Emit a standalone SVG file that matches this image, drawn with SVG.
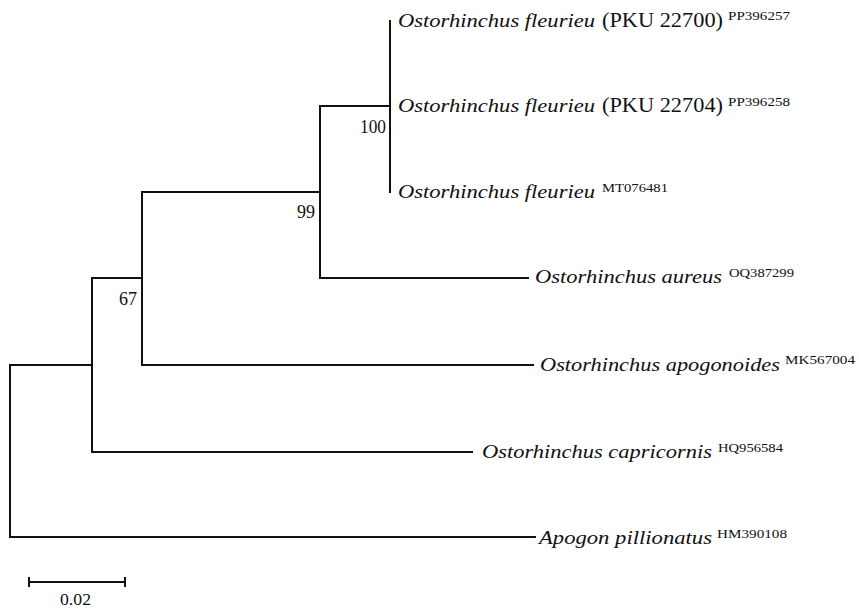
<svg xmlns="http://www.w3.org/2000/svg" width="859" height="611" viewBox="0 0 859 611">
<style>
.br{fill:none;stroke:#111;stroke-width:2;stroke-linecap:square}
text{fill:#111;font-family:"Liberation Serif","Times New Roman",serif}
.sp{font-style:italic;font-size:19px}
.rm{font-size:20px}
.sup{font-size:12.5px}
.bs{font-size:18px}
.sc{font-size:16px}
</style>
<rect width="859" height="611" fill="#fff"/>
<g id="connectors">
<path class="br" d="M10,365 V537 M10,365 H92 M10,537 H535 M92,278 V452 M92,452 H472 M92,278 H142 M142,192 V365 M142,365 H533 M142,192 H320 M320,106 V278 M320,278 H528 M320,106 H390 M390,21 V192"/>
</g>
<g id="tip1">
<text class="sp" x="398" y="27" textLength="197" lengthAdjust="spacingAndGlyphs">Ostorhinchus fleurieu</text>
<text class="rm" x="602" y="27" textLength="121" lengthAdjust="spacingAndGlyphs">(PKU 22700)</text>
<text class="sup" x="728" y="20" textLength="62" lengthAdjust="spacingAndGlyphs">PP396257</text>
</g>
<g id="tip2">
<text class="sp" x="398" y="112" textLength="197" lengthAdjust="spacingAndGlyphs">Ostorhinchus fleurieu</text>
<text class="rm" x="602" y="112" textLength="121" lengthAdjust="spacingAndGlyphs">(PKU 22704)</text>
<text class="sup" x="728" y="106" textLength="62" lengthAdjust="spacingAndGlyphs">PP396258</text>
</g>
<g id="tip3">
<text class="sp" x="398" y="198" textLength="197" lengthAdjust="spacingAndGlyphs">Ostorhinchus fleurieu</text>
<text class="sup" x="602" y="192" textLength="66" lengthAdjust="spacingAndGlyphs">MT076481</text>
</g>
<g id="tip4">
<text class="sp" x="535" y="283" textLength="187" lengthAdjust="spacingAndGlyphs">Ostorhinchus aureus</text>
<text class="sup" x="729" y="277" textLength="65" lengthAdjust="spacingAndGlyphs">OQ387299</text>
</g>
<g id="tip5">
<text class="sp" x="540" y="371" textLength="240" lengthAdjust="spacingAndGlyphs">Ostorhinchus apogonoides</text>
<text class="sup" x="785" y="364" textLength="70" lengthAdjust="spacingAndGlyphs">MK567004</text>
</g>
<g id="tip6">
<text class="sp" x="482" y="458" textLength="230" lengthAdjust="spacingAndGlyphs">Ostorhinchus capricornis</text>
<text class="sup" x="718" y="452" textLength="65" lengthAdjust="spacingAndGlyphs">HQ956584</text>
</g>
<g id="tip7">
<text class="sp" x="539" y="544" textLength="173" lengthAdjust="spacingAndGlyphs">Apogon pillionatus</text>
<text class="sup" x="717" y="538" textLength="70" lengthAdjust="spacingAndGlyphs">HM390108</text>
</g>
<g id="node100"><text class="bs" x="360" y="133" textLength="26" lengthAdjust="spacingAndGlyphs">100</text></g>
<g id="node99"><text class="bs" x="297" y="218" textLength="18" lengthAdjust="spacingAndGlyphs">99</text></g>
<g id="node67"><text class="bs" x="119" y="305" textLength="18" lengthAdjust="spacingAndGlyphs">67</text></g>
<g id="scalebar">
<path class="br" d="M29,582 H125 M29,578 V586 M125,578 V586" stroke-linecap="butt"/>
<text class="sc" x="60" y="605" textLength="31" lengthAdjust="spacingAndGlyphs">0.02</text>
</g>
</svg>
